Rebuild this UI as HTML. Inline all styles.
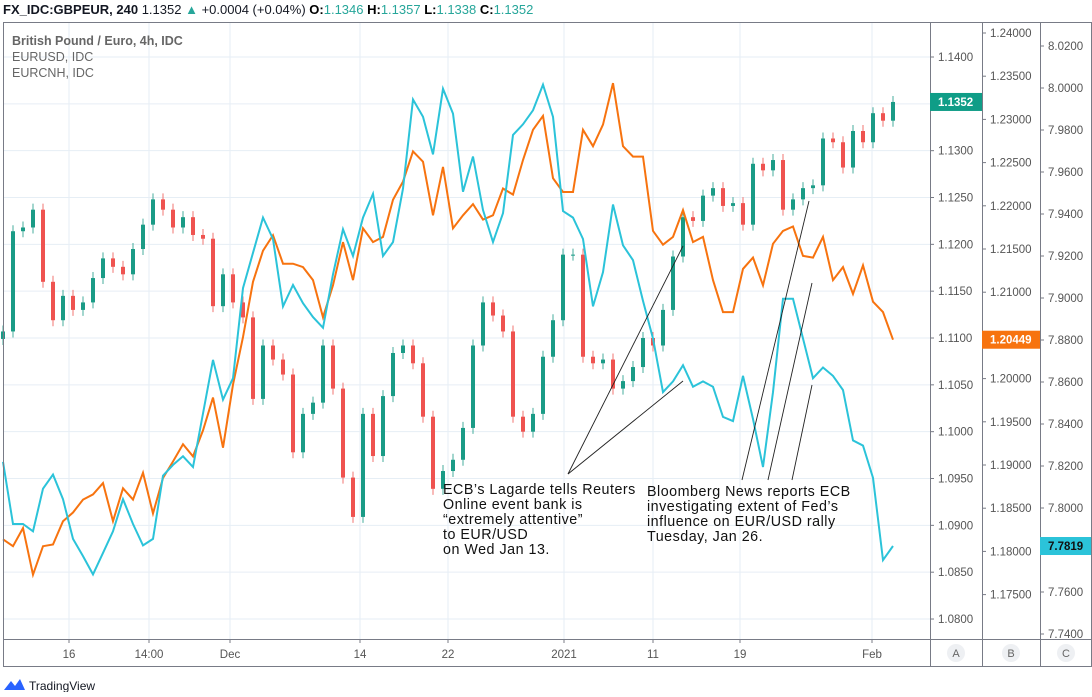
<!DOCTYPE html>
<html><head><meta charset="utf-8"><style>
body{margin:0;background:#fff;width:1092px;height:692px;overflow:hidden;font-family:"Liberation Sans",sans-serif}
svg text{font-family:"Liberation Sans",sans-serif}
</style></head><body>
<svg id="chart" width="1092" height="692" xmlns="http://www.w3.org/2000/svg">
<g id="grid"></g>
<g id="candles"></g>
<path id="eurusd" fill="none" stroke="#f7730f" stroke-width="2"/>
<path id="eurcnh" fill="none" stroke="#2bc3d9" stroke-width="2"/>
<g stroke="#222" stroke-width="0.9">
<line x1="568" y1="474" x2="683" y2="246"/><line x1="568" y1="474" x2="683" y2="381"/>
<line x1="742" y1="480" x2="809" y2="201"/><line x1="768" y1="480" x2="812" y2="283"/><line x1="792" y1="480" x2="812" y2="385"/>
</g>
<g font-size="14.3" fill="#111" letter-spacing="0.5">
<text x="443" y="494">ECB’s Lagarde tells Reuters</text><text x="443" y="509">Online event bank is</text>
<text x="443" y="524">“extremely attentive”</text><text x="443" y="539">to EUR/USD</text><text x="443" y="554">on Wed Jan 13.</text>
</g>
<g font-size="14.3" fill="#111" letter-spacing="0.5">
<text x="647" y="496">Bloomberg News reports ECB</text><text x="647" y="511">investigating extent of Fed’s</text>
<text x="647" y="526">influence on EUR/USD rally</text><text x="647" y="541">Tuesday, Jan 26.</text>
</g>
<g fill="none" stroke="#787b86" stroke-width="1">
<rect x="3.5" y="22.5" width="1088" height="644"/>
<line x1="3" y1="639.5" x2="1092" y2="639.5"/>
<line x1="930.5" y1="22" x2="930.5" y2="667"/><line x1="982.5" y1="22" x2="982.5" y2="667"/><line x1="1040.5" y1="22" x2="1040.5" y2="667"/>
</g>
<g id="axisA" font-size="11.5" fill="#555"></g>
<g id="axisB" font-size="11.5" fill="#555"></g>
<g id="axisC" font-size="11.5" fill="#555"></g>
<g id="xaxis" font-size="11.5" fill="#555"></g>
<g id="lastlabels"></g>
<g font-size="11" fill="#666" text-anchor="middle">
<circle cx="956" cy="653" r="9" fill="#eef0f3"/><text x="956" y="657">A</text>
<circle cx="1011" cy="653" r="9" fill="#eef0f3"/><text x="1011" y="657">B</text>
<circle cx="1066" cy="653" r="9" fill="#eef0f3"/><text x="1066" y="657">C</text>
</g>
<text x="3" y="14" font-size="13"><tspan font-weight="bold" fill="#131722">FX_IDC:GBPEUR, 240</tspan><tspan fill="#131722"> 1.1352 </tspan><tspan fill="#26a69a">▲</tspan><tspan fill="#131722"> +0.0004 (+0.04%) </tspan><tspan font-weight="bold">O:</tspan><tspan fill="#26a69a">1.1346 </tspan><tspan font-weight="bold">H:</tspan><tspan fill="#26a69a">1.1357 </tspan><tspan font-weight="bold">L:</tspan><tspan fill="#26a69a">1.1338 </tspan><tspan font-weight="bold">C:</tspan><tspan fill="#26a69a">1.1352</tspan></text>
<g font-size="12.5" fill="#666">
<text x="12" y="45" font-weight="bold">British Pound / Euro, 4h, IDC</text>
<text x="12" y="61">EURUSD, IDC</text><text x="12" y="77">EURCNH, IDC</text>
</g>
<g>
<path d="M4 690 L11 681 L15 686 L20 679 L25 690 Z" fill="#2962ff"/>
<text x="29" y="690" font-size="12" fill="#131722">TradingView</text>
</g>
</svg>
<script>
const gbpeurClose=[1.1107,1.1214,1.1218,1.1237,1.1160,1.1119,1.1145,1.1130,1.1138,1.1164,1.1185,1.1176,1.1168,1.1195,1.1221,1.1248,1.1237,1.1218,1.1229,1.1210,1.1206,1.1134,1.1168,1.1138,1.1122,1.1035,1.1092,1.1077,1.1061,1.0978,1.1019,1.1031,1.1092,1.1046,1.0951,1.0909,1.1019,1.0974,1.1038,1.1084,1.1092,1.1073,1.1016,1.0939,1.0958,1.0970,1.1004,1.1092,1.1138,1.1124,1.1107,1.1016,1.1000,1.1019,1.1080,1.1119,1.1189,1.1189,1.1080,1.1073,1.1077,1.1046,1.1054,1.1069,1.1100,1.1092,1.1130,1.1187,1.1229,1.1225,1.1252,1.1260,1.1241,1.1244,1.1221,1.1286,1.1279,1.1290,1.1237,1.1248,1.1260,1.1263,1.1313,1.1309,1.1282,1.1321,1.1309,1.1340,1.1332,1.1352];
const eurusd=[1.1814,1.1806,1.1827,1.1773,1.1806,1.1808,1.1835,1.1845,1.1860,1.1866,1.1879,1.1835,1.1873,1.1860,1.1891,1.1844,1.1885,1.1904,1.1924,1.1910,1.1940,1.1978,1.1920,1.1993,1.2048,1.2112,1.2148,1.2166,1.2133,1.2133,1.2129,1.2114,1.2071,1.2108,1.2158,1.2114,1.2174,1.2158,1.2164,1.2207,1.2228,1.2263,1.2251,1.2189,1.2245,1.2174,1.2189,1.2202,1.2184,1.2189,1.2220,1.2213,1.2253,1.2288,1.2304,1.2232,1.2216,1.2216,1.2288,1.2269,1.2294,1.2342,1.2269,1.2257,1.2257,1.2171,1.2155,1.2164,1.2195,1.2158,1.2164,1.2114,1.2077,1.2077,1.2127,1.2140,1.2108,1.2156,1.2171,1.2176,1.2142,1.2140,1.2164,1.2114,1.2129,1.2098,1.2131,1.2089,1.2077,1.2045];
const eurcnh=[7.8220,7.7924,7.7924,7.7889,7.8092,7.8159,7.8042,7.7853,7.7771,7.7684,7.7786,7.7889,7.8042,7.7924,7.7822,7.7853,7.8154,7.8205,7.8246,7.8195,7.8450,7.8705,7.8516,7.8618,7.9047,7.9215,7.9383,7.9281,7.8960,7.9062,7.8975,7.8909,7.8858,7.9113,7.9327,7.9200,7.9383,7.9496,7.9200,7.9266,7.9521,7.9945,7.9863,7.9684,7.9996,7.9878,7.9506,7.9674,7.9419,7.9266,7.9404,7.9776,7.9827,7.9894,8.0016,7.9863,7.9414,7.9383,7.9281,7.8960,7.9123,7.9445,7.9251,7.9180,7.8986,7.8807,7.8552,7.8603,7.8680,7.8577,7.8603,7.8577,7.8434,7.8414,7.8629,7.8424,7.8195,7.8552,7.8996,7.8996,7.8807,7.8618,7.8669,7.8629,7.8562,7.8322,7.8297,7.8144,7.7752,7.7819];
const ticksA=["1.1400","1.1350","1.1300","1.1250","1.1200","1.1150","1.1100","1.1050","1.1000","1.0950","1.0900","1.0850","1.0800"];
const ticksB=["1.24000","1.23500","1.23000","1.22500","1.22000","1.21500","1.21000","1.20500","1.20000","1.19500","1.19000","1.18500","1.18000","1.17500"];
const ticksC=["8.0200","8.0000","7.9800","7.9600","7.9400","7.9200","7.9000","7.8800","7.8600","7.8400","7.8200","7.8000","7.7800","7.7600","7.7400"];
const timeLabels=["16","14:00","Dec","14","22","2021","11","19","Feb"];
const timeIdx=[6.6,14.6,22.7,35.7,44.5,56.1,65,73.7,86.9];

const NS="http://www.w3.org/2000/svg";
const yA=v=>57+(1.14-v)*9367;
const yB=v=>33+(1.24-v)*8640;
const yC=v=>46+(8.02-v)*2100;
const xI=i=>3+i*10;
function mk(t,a,p){const e=document.createElementNS(NS,t);for(const k in a)e.setAttribute(k,a[k]);p.appendChild(e);return e;}
const grid=document.getElementById('grid');
ticksA.forEach(t=>{const l=mk('line',{x1:3,x2:930,y1:yA(+t),y2:yA(+t),stroke:'#e6eef5'},grid);

});
timeIdx.forEach(i=>{const l=mk('line',{x1:xI(i),x2:xI(i),y1:22,y2:639,stroke:'#e6eef5'},grid);

});
const cg=document.getElementById('candles');
gbpeurClose.forEach((c,i)=>{const o=i?gbpeurClose[i-1]:c-0.0008;const up=c>=o;const col=up?'#1a9b86':'#ef5350';
const y1=yA(Math.max(o,c)),y2=yA(Math.min(o,c));const x=xI(i);
const w=mk('line',{x1:x,x2:x,y1:y1-6,y2:y2+6,stroke:col,'stroke-width':1,opacity:0.8},cg);


const b=mk('rect',{x:x-2,y:y1,width:4,height:Math.max(1,y2-y1),fill:col},cg);

});
document.getElementById('eurusd').setAttribute('d',eurusd.map((v,i)=>(i?'L':'M')+xI(i)+' '+yB(v).toFixed(1)).join(''));
document.getElementById('eurcnh').setAttribute('d',eurcnh.map((v,i)=>(i?'L':'M')+xI(i)+' '+yC(v).toFixed(1)).join(''));
function axis(id,ticks,f,x0){const g=document.getElementById(id);ticks.forEach(t=>{const y=f(+t);
const l=mk('line',{x1:x0,x2:x0+4,y1:y,y2:y,stroke:'#787b86'},g);


const tx=mk('text',{x:x0+8,y:y+4},g);tx.textContent=t;

});}
axis('axisA',ticksA.filter((t,i)=>i!=1),yA,930);
axis('axisB',ticksB.filter(t=>t!="1.20500"),yB,982);
axis('axisC',ticksC.filter(t=>t!="7.7800"),yC,1040);
const xa=document.getElementById('xaxis');
timeLabels.forEach((t,k)=>{const x=xI(timeIdx[k]);
const l=mk('line',{x1:x,x2:x,y1:639,y2:643,stroke:'#787b86'},xa);


const tx=mk('text',{x:x,y:658,'text-anchor':'middle'},xa);tx.textContent=t;

});
const ll=document.getElementById('lastlabels');
function last(x,w,y,bg,fg,txt,nm){const r=mk('rect',{x:x,y:y-9,width:w,height:18,fill:bg},ll);


const t=mk('text',{x:x+8,y:y+4,'font-size':11.5,'font-weight':'bold',fill:fg},ll);t.textContent=txt;

}
last(930,52,yA(gbpeurClose[gbpeurClose.length-1]),'#0f9d87','#fff',gbpeurClose[gbpeurClose.length-1].toFixed(4),'gbpeur-last-price');
last(982,58,yB(eurusd[eurusd.length-1]),'#f7730f','#fff','1.20449','eurusd-last-price');
last(1040,51,yC(eurcnh[eurcnh.length-1]),'#2bc3d9','#111',eurcnh[eurcnh.length-1].toFixed(4),'eurcnh-last-price');
</script>
</body></html>
